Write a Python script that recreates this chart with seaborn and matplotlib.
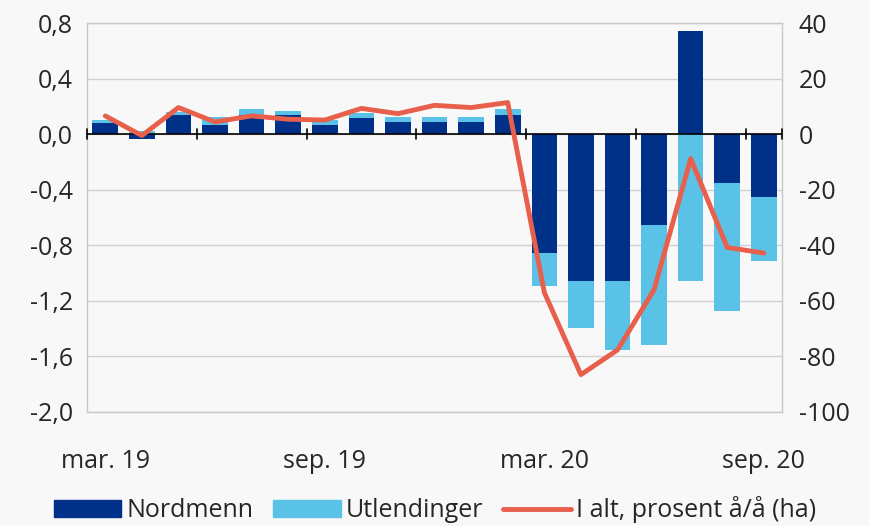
import matplotlib.pyplot as plt
import numpy as np
import pandas as pd
import seaborn as sns
from matplotlib.patches import Patch
from matplotlib.lines import Line2D

maaneder = ['mar. 19', 'apr. 19', 'mai. 19', 'jun. 19', 'jul. 19', 'aug. 19', 'sep. 19',
            'okt. 19', 'nov. 19', 'des. 19', 'jan. 20', 'feb. 20', 'mar. 20', 'apr. 20',
            'mai. 20', 'jun. 20', 'jul. 20', 'aug. 20', 'sep. 20']
nordmenn = [0.08, -0.036, 0.14, 0.065, 0.14, 0.14, 0.065, 0.12, 0.085, 0.085, 0.085, 0.14,
            -0.855, -1.055, -1.055, -0.655, 0.74, -0.355, -0.455]
utlendinger = [0.02, 0.02, 0.02, 0.06, 0.045, 0.025, 0.04, 0.035, 0.04, 0.04, 0.04, 0.04,
               -0.24, -0.34, -0.50, -0.86, -1.055, -0.92, -0.46]
i_alt = [6.6, -0.5, 9.6, 4.4, 6.6, 5.4, 5.1, 9.3, 7.4, 10.4, 9.6, 11.4,
         -57.0, -86.6, -77.7, -56.0, -8.8, -40.8, -42.8]
vis_etiketter = ['mar. 19', 'sep. 19', 'mar. 20', 'sep. 20']
venstre_ticks = [-2.0, -1.6, -1.2, -0.8, -0.4, 0.0, 0.4, 0.8]
hoyre_ticks = [-100, -80, -60, -40, -20, 0, 20, 40]

MORK = '#003087'
LYS = '#5BC2E7'
ROD = '#E8604C'
BG = '#F8F8F8'

df = pd.DataFrame({'maaned': maaneder, 'nordmenn': nordmenn, 'utlendinger': utlendinger, 'i_alt': i_alt})
# Excel-stabling: samme fortegn stables, motsatt fortegn starter fra null
samme = np.sign(df['nordmenn']) == np.sign(df['utlendinger'])
df['topp'] = np.where(samme, df['nordmenn'] + df['utlendinger'], df['utlendinger'])
df['x'] = np.arange(len(df))

sns.set_theme(style='white')
plt.rcParams['font.family'] = ['Open Sans', 'DejaVu Sans']
plt.rcParams['axes.unicode_minus'] = False

fig = plt.figure(figsize=(8.7, 5.26), dpi=100, facecolor=BG)
ax = fig.add_axes([0.100, 0.217, 0.799, 0.739], facecolor=BG)

sns.barplot(data=df, x='maaned', y='topp', color=LYS, width=0.7, saturation=1, ax=ax, linewidth=0)
sns.barplot(data=df, x='maaned', y='nordmenn', color=MORK, width=0.7, saturation=1, ax=ax, linewidth=0)

ax.set_ylim(-2.0, 0.8)
ax.set_xlim(-0.5, len(df) - 0.5)
ax.set_yticks(venstre_ticks)
ax.set_yticklabels([f'{v:.1f}'.replace('.', ',') for v in venstre_ticks])
ax.yaxis.grid(True, color='#D0D0D0', linewidth=1)
ax.set_axisbelow(True)
for s in ax.spines.values():
    s.set_color('#C8C8C8')
    s.set_linewidth(1)
ax.set_xticks([maaneder.index(m) for m in vis_etiketter])
ax.set_xticklabels(vis_etiketter)
ax.tick_params(axis='x', length=0, pad=27, labelsize=18)
ax.tick_params(axis='y', length=0, pad=10, labelsize=18)
ax.set_xlabel('')
ax.set_ylabel('')

# nullinje med tick-merker hver tredje maaned
ax.axhline(0, color='black', linewidth=1.2, zorder=3)
for t in list(np.arange(-0.5, len(df), 3)) + [len(df) - 0.5]:
    ax.plot([t, t], [-0.035, 0.035], color='black', linewidth=1.2, zorder=3, clip_on=False)

ax2 = ax.twinx()
sns.lineplot(data=df, x='x', y='i_alt', color=ROD, linewidth=3.5, ax=ax2)
ax2.set_ylim(-100, 40)
ax2.set_yticks(hoyre_ticks)
ax2.tick_params(axis='y', length=0, pad=12, labelsize=18)
ax2.set_ylabel('')
ax2.set_xlabel('')
ax2.grid(False)
for s in ax2.spines.values():
    s.set_visible(False)

handles = [Patch(color=MORK), Patch(color=LYS), Line2D([], [], color=ROD, linewidth=3.5)]
fig.legend(handles, ['Nordmenn', 'Utlendinger', 'I alt, prosent å/å (ha)'],
           loc='lower center', bbox_to_anchor=(0.5, -0.038), ncol=3, frameon=False,
           fontsize=18, handlelength=2.7, handleheight=0.7, handletextpad=0.2, columnspacing=0.8)

fig.savefig('out.png', dpi=100, facecolor=BG)
